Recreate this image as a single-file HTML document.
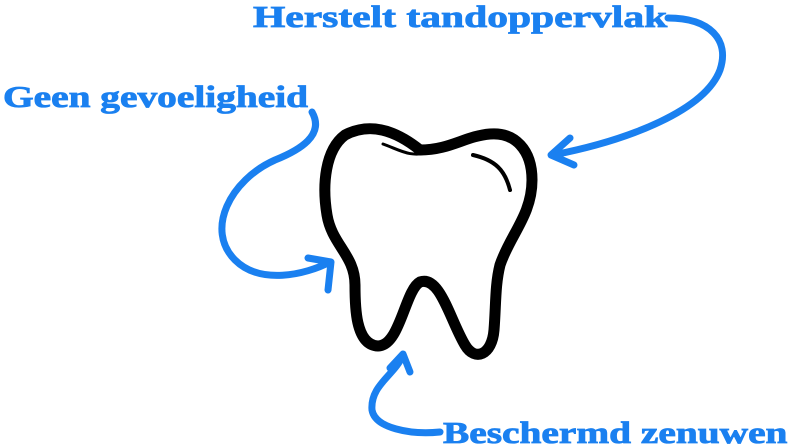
<!DOCTYPE html>
<html><head><style>
html,body{margin:0;padding:0;background:#fff;width:800px;height:444px;overflow:hidden;position:relative}
.t{position:absolute;font-family:"Liberation Serif",serif;font-weight:bold;color:#1a80f0;font-size:31px;white-space:nowrap;line-height:1;transform-origin:0 0;-webkit-text-stroke:0.8px #1a80f0}
</style></head><body>
<svg width="800" height="444" style="position:absolute;left:0;top:0">
<g fill="none" stroke="#000" stroke-linecap="round" stroke-linejoin="round">
<path stroke-width="11" d="M420,150 C395,130 370,122 345,135 C325,150 322,185 327,215 C332,245 355,255 355,285 C355,305 355,345 378,346 C400,346 405,290 420,282 C440,275 450,320 465,345 C475,362 492,355 494,330 C496,305 495,285 500,265 C510,235 532,215 532,180 C532,150 515,132 490,134 C465,136 450,150 420,150 Z"/>
<path stroke-width="3" d="M383,144 C400,150 410,158 430,152"/>
<path stroke-width="4" d="M473,155 C495,160 505,170 510,190"/>
<path stroke-width="3" d="M400,315 C404,305 405,300 408,308"/>
</g>
<g fill="none" stroke="#1a80f0" stroke-width="7" stroke-linecap="round" stroke-linejoin="round">
<path d="M668,18 C710,18 730,40 720,70 C705,110 630,140 553,155"/>
<path d="M570,138 L551,155 L574,165"/>
<path d="M312,112 C325,135 300,150 275,160 C230,180 205,230 235,260 C260,285 305,275 330,262"/>
<path d="M308,258 L331,262 L328,290"/>
<path d="M440,432 C410,435 375,428 372,410 C370,385 395,375 403,355"/>
<path d="M390,368 L403,354 L410,372"/>
</g>
</svg>
<div class="t" style="left:253px;top:1px;transform:scaleX(1.34)">Herstelt tandoppervlak</div>
<div class="t" style="left:3px;top:81px;transform:scaleX(1.27)">Geen gevoeligheid</div>
<div class="t" style="left:443px;top:417px;transform:scaleX(1.27)">Beschermd zenuwen</div>
</body></html>
